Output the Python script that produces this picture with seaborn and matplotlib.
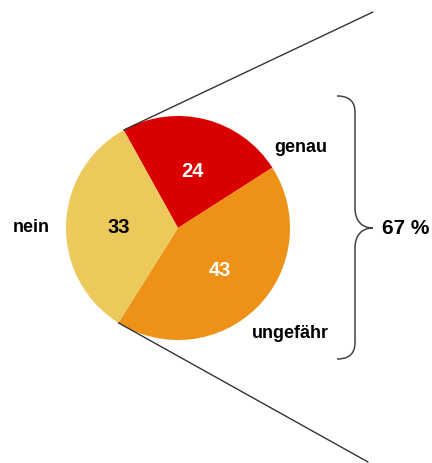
import numpy as np
import matplotlib
matplotlib.use("Agg")
import matplotlib.pyplot as plt
import seaborn as sns
from matplotlib.path import Path
from matplotlib.patches import PathPatch

# data
labels = ["genau", "ungefähr", "nein"]
values = [24, 43, 33]
colors = ["#DA0000", "#EE9217", "#EBC95A"]
value_colors = ["white", "white", "black"]
brace_text = "67 %"

sns.set_theme(style="white")
plt.rcParams["font.family"] = ["Liberation Sans", "DejaVu Sans"]

W, H = 432, 464
fig = plt.figure(figsize=(W / 100, H / 100), dpi=100)
ax = fig.add_axes([0, 0, 1, 1])

cx, cy, R = 178, H - 229, 112
wedges, _, autotexts = ax.pie(
    values, colors=sns.color_palette(colors), startangle=119, counterclock=False,
    center=(cx, cy), radius=R, autopct="%d", pctdistance=0.53,
    wedgeprops=dict(linewidth=0), frame=True,
)
ax.set_xlim(0, W)
ax.set_ylim(0, H)
ax.set_aspect("equal")
ax.axis("off")
for t, c in zip(autotexts, value_colors):
    t.set_color(c)
    t.set_fontsize(14.5)
    t.set_fontweight("bold")

# outer labels
lab_kw = dict(ha="center", va="center", fontsize=13, fontweight="bold", color="black")
ax.text(301, H - 147, labels[0], **lab_kw)
ax.text(290, H - 334, labels[1], **lab_kw)
ax.text(31, H - 228, labels[2], **lab_kw)

# lines from the start/end of the "ja" part
a_top = np.deg2rad(wedges[0].theta2)
a_bot = np.deg2rad(wedges[1].theta1)
p_top = (cx + R * np.cos(a_top), cy + R * np.sin(a_top))
p_bot = (cx + R * np.cos(a_bot), cy + R * np.sin(a_bot))
ax.plot([p_top[0], 373], [p_top[1], H - 13], color="#333333", lw=1)
ax.plot([p_bot[0], 368], [p_bot[1], H - 463], color="#333333", lw=1)

# curly brace
xt, xv, xp = 337, 355, 373
y0, ym, y1 = H - 97, H - 229, H - 360
verts = [
    (xt, y0), (xv, y0), (xv, y0 - 12), (xv, y0 - 18),
    (xv, ym + 20),
    (xv, ym + 6), (xp - 10, ym), (xp, ym),
    (xp - 10, ym), (xv, ym - 6), (xv, ym - 20),
    (xv, y1 + 18),
    (xv, y1 + 12), (xv, y1), (xt, y1),
]
codes = [Path.MOVETO, Path.CURVE4, Path.CURVE4, Path.CURVE4,
         Path.LINETO,
         Path.CURVE4, Path.CURVE4, Path.CURVE4,
         Path.CURVE4, Path.CURVE4, Path.CURVE4,
         Path.LINETO,
         Path.CURVE4, Path.CURVE4, Path.CURVE4]
ax.add_patch(PathPatch(Path(verts, codes), fill=False, edgecolor="#444444", lw=1.1))
ax.text(382, H - 229, brace_text, ha="left", va="center", fontsize=15, fontweight="bold",
        color="black")

fig.savefig("out.png", dpi=100)
